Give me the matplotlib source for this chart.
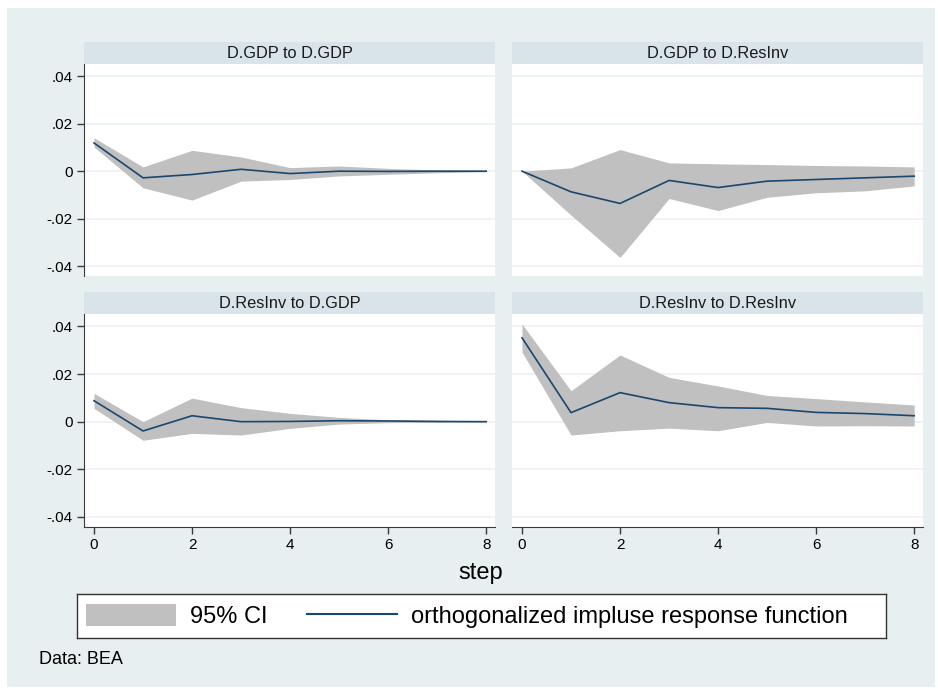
import matplotlib
matplotlib.use("Agg")
from matplotlib import pyplot as plt
from matplotlib.patches import Patch
from matplotlib.lines import Line2D

plt.rcParams['font.family'] = ['Liberation Sans', 'DejaVu Sans']

steps = [0, 1, 2, 3, 4, 5, 6, 7, 8]

# D.GDP -> D.GDP
gdp_gdp_irf = [0.0119, -0.0028, -0.0014, 0.0008, -0.0010, 0.0000, -0.0001, 0.0000, 0.0000]
gdp_gdp_hi = [0.0141, 0.0018, 0.0088, 0.0060, 0.0015, 0.0022, 0.0012, 0.0005, 0.0001]
gdp_gdp_lo = [0.0102, -0.0070, -0.0122, -0.0042, -0.0035, -0.0020, -0.0013, -0.0007, -0.0002]

# D.GDP -> D.ResInv
gdp_res_irf = [0.0, -0.0087, -0.0136, -0.0039, -0.0069, -0.0042, -0.0035, -0.0028, -0.0021]
gdp_res_hi = [0.0, 0.0014, 0.0091, 0.0035, 0.0031, 0.0028, 0.0024, 0.0022, 0.0018]
gdp_res_lo = [0.0, -0.0185, -0.0364, -0.0115, -0.0166, -0.0110, -0.0091, -0.0083, -0.0062]

# D.ResInv -> D.GDP
res_gdp_irf = [0.0088, -0.0039, 0.0025, 0.0000, 0.0001, 0.0004, 0.0003, 0.0001, 0.0000]
res_gdp_hi = [0.0119, 0.0000, 0.0099, 0.0059, 0.0035, 0.0018, 0.0008, 0.0006, 0.0002]
res_gdp_lo = [0.0056, -0.0078, -0.0049, -0.0056, -0.0028, -0.0010, -0.0004, -0.0003, -0.0001]

# D.ResInv -> D.ResInv
res_res_irf = [0.0352, 0.0038, 0.0122, 0.0080, 0.0059, 0.0056, 0.0039, 0.0034, 0.0025]
res_res_hi = [0.0410, 0.0130, 0.0280, 0.0186, 0.0150, 0.0110, 0.0097, 0.0083, 0.0070]
res_res_lo = [0.0292, -0.0056, -0.0038, -0.0027, -0.0038, -0.0003, -0.0018, -0.0017, -0.0018]

panel_titles = ["D.GDP to D.GDP", "D.GDP to D.ResInv", "D.ResInv to D.GDP", "D.ResInv to D.ResInv"]
yticks = [0.04, 0.02, 0, -0.02, -0.04]
ytick_labels = [".04", ".02", "0", "-.02", "-.04"]
xticks = [0, 2, 4, 6, 8]

W, H = 938, 692
bg = "#e8eff1"
strip_col = "#d9e4ea"
ci_col = "#c0c0c0"
line_col = "#1a476f"
axis_col = "#3a3a3a"


def box(x0, y0, x1, y1):
    return [x0 / W, 1 - y1 / H, (x1 - x0) / W, (y1 - y0) / H]


fig = plt.figure(figsize=(9.38, 6.92), dpi=100, facecolor="white")

# outer graph region
bg_ax = fig.add_axes(box(7, 8, 935, 687))
bg_ax.set_facecolor(bg)
bg_ax.set_xticks([])
bg_ax.set_yticks([])
for sp in bg_ax.spines.values():
    sp.set_visible(False)

data = [
    (gdp_gdp_irf, gdp_gdp_lo, gdp_gdp_hi),
    (gdp_res_irf, gdp_res_lo, gdp_res_hi),
    (res_gdp_irf, res_gdp_lo, res_gdp_hi),
    (res_res_irf, res_res_lo, res_res_hi),
]
cols = [(84, 495), (512, 923)]
rows = [(42, 64, 276), (292, 314, 527)]

for i, (irf, lo, hi) in enumerate(data):
    r, c = divmod(i, 2)
    x0, x1 = cols[c]
    s0, y0, y1 = rows[r]

    st = fig.add_axes(box(x0, s0, x1, y0))
    st.set_facecolor(strip_col)
    st.set_xticks([])
    st.set_yticks([])
    for sp in st.spines.values():
        sp.set_visible(False)
    st.text(0.5, 0.5, panel_titles[i], ha="center", va="center",
            fontsize=11.8, color="#1a1a1a", transform=st.transAxes)

    ax = fig.add_axes(box(x0, y0, x1, y1))
    ax.set_facecolor("white")
    ax.fill_between(steps, lo, hi, color=ci_col, linewidth=0, zorder=2)
    ax.plot(steps, irf, color=line_col, linewidth=1.2, zorder=3)
    ax.set_xlim(-0.204, 8.18)
    ax.set_ylim(-0.0442, 0.0452)
    ax.set_yticks(yticks)
    ax.set_xticks(xticks)
    for y in yticks:
        ax.axhline(y, color="#eaf2f3", linewidth=1.2, zorder=1)
    for sp in ["top", "right"]:
        ax.spines[sp].set_visible(False)
    ax.spines["left"].set_visible(c == 0)
    ax.spines["bottom"].set_visible(r == 1)
    ax.spines["left"].set_color(axis_col)
    ax.spines["bottom"].set_color(axis_col)
    if c == 0:
        ax.set_yticklabels(ytick_labels)
        ax.tick_params(axis="y", length=5, width=1, color=axis_col,
                       labelsize=11, pad=3)
    else:
        ax.tick_params(axis="y", left=False, labelleft=False)
    if r == 1:
        ax.set_xticklabels([str(t) for t in xticks])
        ax.tick_params(axis="x", length=5, width=1, color=axis_col,
                       labelsize=11, pad=3)
    else:
        ax.tick_params(axis="x", bottom=False, labelbottom=False)

fig.text(481 / W, 1 - 573 / H, "step", ha="center", va="center", fontsize=17)

leg_ax = fig.add_axes(box(77, 594, 886, 638))
leg_ax.set_facecolor("white")
leg_ax.set_xticks([])
leg_ax.set_yticks([])
for sp in leg_ax.spines.values():
    sp.set_color("#333333")
    sp.set_linewidth(1)
handles = [Patch(facecolor=ci_col, edgecolor="none"),
           Line2D([0], [0], color=line_col, linewidth=1.5)]
leg_ax.legend(handles, ["95% CI", "orthogonalized impluse response function"],
              loc="center left", bbox_to_anchor=(0.0, 0.5), ncol=2,
              frameon=False, fontsize=17, handlelength=3.8, handleheight=1.02,
              handletextpad=0.6, columnspacing=1.65, borderaxespad=0.0)

fig.text(39 / W, 1 - 660 / H, "Data: BEA", ha="left", va="center", fontsize=13)

fig.savefig("out.png", dpi=100, facecolor="white")
